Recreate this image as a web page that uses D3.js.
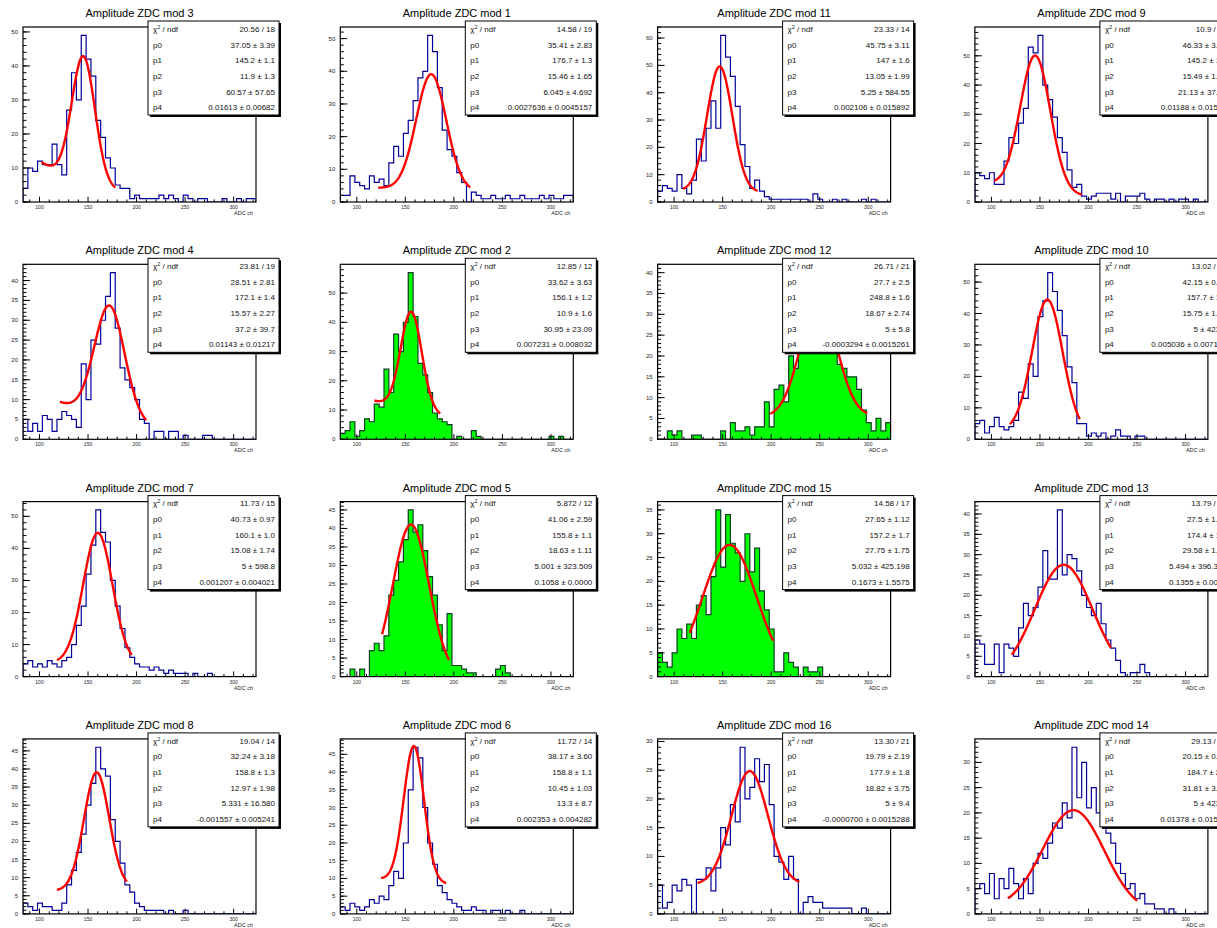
<!DOCTYPE html>
<html>
<head>
<meta charset="utf-8">
<script src="https://cdn.jsdelivr.net/npm/d3@7"></script>
<style>
  body { margin: 0; background: #fff; }
  svg { display: block; }
  text { font-family: "Liberation Sans", Arial, Helvetica, sans-serif; }
</style>
</head>
<body>
<svg id="canvas" width="1217" height="928"></svg>
<script>
// binning shared by every pad (ADC ch)
const binLow = 83, binWidth = 5, nBins = 48;
const xMajor = [100, 150, 200, 250, 300];

// pads in canvas order (row by row)
const titles = [
  "Amplitude ZDC mod 3", "Amplitude ZDC mod 1", "Amplitude ZDC mod 11", "Amplitude ZDC mod 9",
  "Amplitude ZDC mod 4", "Amplitude ZDC mod 2", "Amplitude ZDC mod 12", "Amplitude ZDC mod 10",
  "Amplitude ZDC mod 7", "Amplitude ZDC mod 5", "Amplitude ZDC mod 15", "Amplitude ZDC mod 13",
  "Amplitude ZDC mod 8", "Amplitude ZDC mod 6", "Amplitude ZDC mod 16", "Amplitude ZDC mod 14"
];
const greenFill = [false, false, false, false, false, true, true, false,
                   false, true, true, false, false, false, false, false];

const counts = [
  [4,10,9,12,11,11,17,11,8,27, 38,30,49,42,37,24,19,13,10,5, 4,4,1,2,1,1,1,1,2,1, 2,1,0,2,1,0,1,1,0,0, 0,1,0,0,1,0,1,1],
  [2,2,8,6,5,4,8,6,7,5, 12,17,14,21,25,31,38,40,51,46, 35,22,16,14,9,6,0,3,2,1, 1,2,1,1,2,1,1,2,1,1, 1,2,1,2,1,1,2,2],
  [4,6,5,4,10,5,3,8,23,15, 27,37,27,61,53,46,35,21,13,5, 8,4,2,1,1,1,1,1,1,1, 1,0,3,1,0,0,1,0,1,0, 0,0,1,0,1,0,0,0],
  [10,9,8,10,6,6,14,22,20,27, 32,53,51,57,40,35,29,22,17,11, 5,6,2,1,2,3,3,3,1,3, 0,2,2,2,3,1,0,1,1,0, 1,0,1,1,0,1,0,0],
  [5,2,4,2,6,5,2,5,7,6, 5,3,19,10,25,24,30,36,42,28, 18,15,13,10,5,4,0,2,2,0, 2,2,0,1,0,0,0,1,1,0, 0,0,0,0,0,0,0,0],
  [2,3,6,1,3,7,6,12,11,24, 16,36,30,40,57,42,26,22,16,9, 7,6,5,0,1,0,0,3,1,0, 0,0,0,0,0,0,0,0,0,0, 0,0,0,1,0,1,0,0],
  [0,0,2,1,2,0,0,1,1,0, 0,0,0,2,0,4,2,2,3,1, 3,3,9,3,12,13,9,20,17,26, 30,33,31,40,36,30,25,18,17,15, 15,12,7,4,2,5,2,4],
  [5,6,2,4,7,4,3,4,6,15, 13,24,20,39,44,53,47,41,33,23, 18,5,5,1,2,1,2,0,1,3, 1,1,0,1,1,0,0,0,0,0, 0,0,0,0,0,0,0,0],
  [4,5,3,4,3,5,4,3,5,6, 10,16,22,32,41,52,45,42,30,22, 15,9,6,4,3,3,2,3,2,1, 2,1,1,1,0,1,0,0,1,0, 0,0,0,0,0,0,0,0],
  [0,0,2,0,2,0,7,9,7,11, 22,26,31,37,45,39,41,34,27,22, 14,7,17,3,3,2,1,1,0,0, 0,0,2,3,1,0,0,0,0,0, 0,0,0,0,0,0,0,0],
  [5,3,2,5,10,8,11,8,15,17, 13,21,35,23,34,28,26,20,30,22, 27,18,14,10,1,1,5,3,2,0, 2,1,1,2,0,0,0,0,0,0, 0,0,0,0,0,0,0,0],
  [9,8,3,3,8,1,8,7,5,12, 18,15,17,22,31,24,24,41,25,30, 29,26,20,17,15,18,13,9,7,4, 1,0,1,1,3,1,0,0,0,0, 0,0,0,0,0,0,0,0],
  [3,2,1,3,2,2,1,1,3,8, 12,17,22,30,36,46,40,38,26,20, 14,8,6,3,2,1,1,1,1,0, 1,0,0,1,0,0,0,0,0,0, 0,0,0,0,0,0,0,0],
  [2,1,3,2,1,2,4,3,5,4, 8,12,10,20,35,47,44,30,20,14, 8,6,4,3,2,1,1,2,1,1, 0,1,1,0,1,0,0,1,0,0, 0,0,0,0,0,0,0,0],
  [5,1,2,5,4,6,5,0,6,6, 8,4,8,15,12,19,16,29,20,22, 27,23,26,19,10,9,6,10,6,0, 2,3,2,2,1,1,1,1,1,1, 0,0,1,0,0,0,0,0],
  [5,6,4,8,3,7,5,9,6,3, 7,4,10,12,11,14,18,17,22,19, 33,23,30,21,25,20,18,16,14,10, 8,5,6,3,4,2,2,1,1,0, 1,0,0,0,0,0,0,0]
];

// fit: p0*gaus(p1,p2) + p3*exp(-p4*x)
const fitPars = [
  [37.05, 145.2, 11.9, 60.57, 0.01613],
  [35.41, 176.7, 15.46, 6.045, 0.0027636],
  [45.75, 147, 13.05, 5.25, 0.002106],
  [46.33, 145.2, 15.49, 21.13, 0.01188],
  [28.51, 172.1, 15.57, 37.2, 0.01143],
  [33.62, 156.1, 10.9, 30.95, 0.007231],
  [27.7, 248.8, 18.67, 5, -0.0003294],
  [42.15, 157.7, 15.75, 5, 0.005036],
  [40.73, 160.1, 15.08, 5, 0.001207],
  [41.06, 155.8, 18.63, 5.001, 0.1058],
  [27.65, 157.2, 27.75, 5.032, 0.1673],
  [27.5, 174.4, 29.58, 5.494, 0.1355],
  [32.24, 158.8, 12.97, 5.331, -0.001557],
  [38.17, 158.8, 10.45, 13.3, 0.002353],
  [19.79, 177.9, 18.82, 5, -0.00007],
  [20.15, 184.7, 31.81, 5, 0.01378]
];
const fitRanges = [
  [102, 178], [122, 217], [109, 186], [103, 193],
  [121, 210], [118, 186], [199, 299], [119, 191],
  [118, 195], [126, 195], [116, 202], [121, 223],
  [118, 190], [125, 192], [124, 229], [117, 250]
];

const chi2Text = [
  "20.56 / 18", "14.58 / 19", "23.33 / 14", "10.9 / 19",
  "23.81 / 19", "12.85 / 12", "26.71 / 21", "13.02 / 19",
  "11.73 / 15", "5.872 / 12", "14.58 / 17", "13.79 / 22",
  "19.04 / 14", "11.72 / 14", "13.30 / 21", "29.13 / 22"
];
const parText = [
  ["37.05 ± 3.39", "145.2 ± 1.1", "11.9 ± 1.3", "60.57 ± 57.65", "0.01613 ± 0.00682"],
  ["35.41 ± 2.83", "176.7 ± 1.3", "15.46 ± 1.65", "6.045 ± 4.692", "0.0027636 ± 0.0045157"],
  ["45.75 ± 3.11", "147 ± 1.6", "13.05 ± 1.99", "5.25 ± 584.55", "0.002106 ± 0.015892"],
  ["46.33 ± 3.43", "145.2 ± 1.2", "15.49 ± 1.75", "21.13 ± 37.39", "0.01188 ± 0.01521"],
  ["28.51 ± 2.81", "172.1 ± 1.4", "15.57 ± 2.27", "37.2 ± 39.7", "0.01143 ± 0.01217"],
  ["33.62 ± 3.63", "156.1 ± 1.2", "10.9 ± 1.6", "30.95 ± 23.09", "0.007231 ± 0.008032"],
  ["27.7 ± 2.5", "248.8 ± 1.6", "18.67 ± 2.74", "5 ± 5.8", "-0.0003294 ± 0.0015261"],
  ["42.15 ± 0.22", "157.7 ± 1.5", "15.75 ± 1.63", "5 ± 423.5", "0.005036 ± 0.007196"],
  ["40.73 ± 0.97", "160.1 ± 1.0", "15.08 ± 1.74", "5 ± 598.8", "0.001207 ± 0.004021"],
  ["41.06 ± 2.59", "155.8 ± 1.1", "18.63 ± 1.11", "5.001 ± 323.509", "0.1058 ± 0.0000"],
  ["27.65 ± 1.12", "157.2 ± 1.7", "27.75 ± 1.75", "5.032 ± 425.198", "0.1673 ± 1.5575"],
  ["27.5 ± 1.12", "174.4 ± 1.7", "29.58 ± 1.86", "5.494 ± 396.369", "0.1355 ± 0.0000"],
  ["32.24 ± 3.18", "158.8 ± 1.3", "12.97 ± 1.98", "5.331 ± 16.580", "-0.001557 ± 0.005241"],
  ["38.17 ± 3.60", "158.8 ± 1.1", "10.45 ± 1.03", "13.3 ± 8.7", "0.002353 ± 0.004282"],
  ["19.79 ± 2.19", "177.9 ± 1.8", "18.82 ± 3.75", "5 ± 9.4", "-0.0000700 ± 0.0015288"],
  ["20.15 ± 0.41", "184.7 ± 2.3", "31.81 ± 3.62", "5 ± 423.5", "0.01378 ± 0.01571"]
];

// pad geometry (pixels)
const padW = 317.3, padH = 237.3;
const frameX = 23, frameY = 27, frameW = 233, frameH = 175;
const boxX = frameX + 125, boxY = 21, boxW = 131, boxH = 94;

const svg = d3.select("#canvas");

function fitFunc(p, x) {
  return p[0] * Math.exp(-0.5 * Math.pow((x - p[1]) / p[2], 2)) + p[3] * Math.exp(-p[4] * x);
}

function niceStep(ymax) {
  const steps = [1, 2, 5, 10, 20, 50];
  for (const s of steps) if (ymax / s <= 10) return s;
  return 100;
}

titles.forEach((title, i) => {
  const col = i % 4, row = Math.floor(i / 4);
  const pad = svg.append("g").attr("transform", "translate(" + (col * padW) + "," + (row * padH) + ")");
  const data = counts[i];

  const x = d3.scaleLinear().domain([binLow, binLow + nBins * binWidth]).range([frameX, frameX + frameW]);
  const ymax = d3.max(data) * 1.05;
  const y = d3.scaleLinear().domain([0, ymax]).range([frameY + frameH, frameY]);

  const clipId = "clip" + i;
  pad.append("clipPath").attr("id", clipId)
    .append("rect").attr("x", frameX).attr("y", frameY).attr("width", frameW).attr("height", frameH);

  // histogram as steps
  const pts = [[binLow, 0]];
  data.forEach((v, k) => {
    pts.push([binLow + k * binWidth, v]);
    pts.push([binLow + (k + 1) * binWidth, v]);
  });
  pts.push([binLow + nBins * binWidth, 0]);
  const line = d3.line().x(d => x(d[0])).y(d => y(d[1]));
  pad.append("path")
    .attr("clip-path", "url(#" + clipId + ")")
    .attr("d", line(pts))
    .attr("fill", greenFill[i] ? "#00ff00" : "none")
    .attr("stroke", greenFill[i] ? "#0d3b24" : "#000099")
    .attr("stroke-width", 1.2);

  // fit curve
  const [a, b] = fitRanges[i];
  const xs = d3.range(0, 201).map(k => a + (b - a) * k / 200);
  pad.append("path")
    .attr("clip-path", "url(#" + clipId + ")")
    .attr("d", d3.line().x(d => x(d)).y(d => y(fitFunc(fitPars[i], d)))(xs))
    .attr("fill", "none")
    .attr("stroke", "#ff0000")
    .attr("stroke-width", 2.4);

  // x axis ticks
  const base = frameY + frameH;
  const xMinor = d3.range(90, 321, 10).filter(v => !xMajor.includes(v));
  pad.selectAll(".xmin").data(xMinor).enter().append("line")
    .attr("x1", d => x(d)).attr("x2", d => x(d))
    .attr("y1", base).attr("y2", base - 2.6)
    .attr("stroke", "#000").attr("stroke-width", 1);
  pad.selectAll(".xmaj").data(xMajor).enter().append("line")
    .attr("x1", d => x(d)).attr("x2", d => x(d))
    .attr("y1", base).attr("y2", base - 5.2)
    .attr("stroke", "#000").attr("stroke-width", 1);
  pad.selectAll(".xlab").data(xMajor).enter().append("text")
    .attr("x", d => x(d)).attr("y", base + 7)
    .attr("text-anchor", "middle").attr("font-size", 5).attr("fill", "#222")
    .text(d => d);
  pad.append("text")
    .attr("x", frameX + frameW - 3).attr("y", base + 13)
    .attr("text-anchor", "end").attr("font-size", 5.5).attr("fill", "#222")
    .text("ADC ch");

  // y axis ticks
  const step = niceStep(ymax);
  const yMajor = d3.range(0, ymax + 1e-9, step);
  const yMinor = d3.range(0, ymax + 1e-9, step / 5);
  pad.selectAll(".ymin").data(yMinor).enter().append("line")
    .attr("x1", frameX).attr("x2", frameX + 3.5)
    .attr("y1", d => y(d)).attr("y2", d => y(d))
    .attr("stroke", "#000").attr("stroke-width", 1);
  pad.selectAll(".ymaj").data(yMajor).enter().append("line")
    .attr("x1", frameX).attr("x2", frameX + 7)
    .attr("y1", d => y(d)).attr("y2", d => y(d))
    .attr("stroke", "#000").attr("stroke-width", 1);
  pad.selectAll(".ylab").data(yMajor).enter().append("text")
    .attr("x", frameX - 5).attr("y", d => y(d) + 2)
    .attr("text-anchor", "end").attr("font-size", 6).attr("fill", "#222")
    .text(d => d);

  // frame
  pad.append("rect")
    .attr("x", frameX).attr("y", frameY).attr("width", frameW).attr("height", frameH)
    .attr("fill", "none").attr("stroke", "#000").attr("stroke-width", 1.2);

  // stats box with shadow
  pad.append("rect")
    .attr("x", boxX + 2).attr("y", boxY + 2).attr("width", boxW).attr("height", boxH)
    .attr("fill", "#000");
  pad.append("rect")
    .attr("x", boxX).attr("y", boxY).attr("width", boxW).attr("height", boxH)
    .attr("fill", "#fff").attr("stroke", "#000").attr("stroke-width", 1);
  const rowH = boxH / 6;
  const chiRow = pad.append("text")
    .attr("x", boxX + 5).attr("y", boxY + rowH * 0.5 + 3)
    .attr("font-size", 8).attr("fill", "#111");
  chiRow.append("tspan").text("χ");
  chiRow.append("tspan").attr("font-size", 5.5).attr("dy", -3).text("2");
  chiRow.append("tspan").attr("dy", 3).text(" / ndf");
  pad.append("text")
    .attr("x", boxX + boxW - 4).attr("y", boxY + rowH * 0.5 + 3)
    .attr("text-anchor", "end").attr("font-size", 8).attr("fill", "#111")
    .text(chi2Text[i]);
  parText[i].forEach((t, k) => {
    const yy = boxY + rowH * (k + 1.5) + 3;
    pad.append("text").attr("x", boxX + 5).attr("y", yy)
      .attr("font-size", 8).attr("fill", "#111").text("p" + k);
    pad.append("text").attr("x", boxX + boxW - 4).attr("y", yy)
      .attr("text-anchor", "end").attr("font-size", 8).attr("fill", "#111").text(t);
  });

  // title
  pad.append("text")
    .attr("x", frameX + frameW / 2).attr("y", 17)
    .attr("text-anchor", "middle").attr("font-size", 11).attr("fill", "#000")
    .text(title);
});
</script>
</body>
</html>
